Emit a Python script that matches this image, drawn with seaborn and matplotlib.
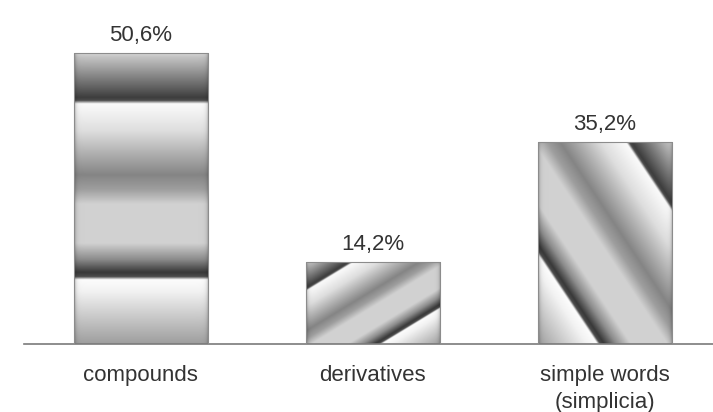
import numpy as np
import pandas as pd
import matplotlib
matplotlib.use("Agg")
import matplotlib.pyplot as plt
import seaborn as sns

categories = ["compounds", "derivatives", "simple words\n(simplicia)"]
values = [50.6, 14.2, 35.2]
value_labels = ["50,6%", "14,2%", "35,2%"]
# gradient orientation per bar: 'v' vertical, 'dr' diagonal to lower-right, 'dl' diagonal to lower-left
orient = ["v", "dr", "dl"]

sns.set_style("white")
plt.rcParams["font.family"] = ["Liberation Sans", "DejaVu Sans"]

fig = plt.figure(figsize=(7.13, 4.12), dpi=100)
ax = fig.add_axes([24 / 713, 68 / 412, 1 - 24 / 713, 1 - 68 / 412])

df = pd.DataFrame({"cat": categories, "val": values})
sns.barplot(data=df, x="cat", y="val", ax=ax, color="#bbbbbb", width=0.578,
            saturation=1)

ax.set_xlim(-0.504, 2.466)
ax.set_ylim(0, 59.8)

# metallic gradient profile
tp = [0.0, 0.017, 0.04, 0.12, 0.155, 0.165, 0.176, 0.197, 0.27, 0.42, 0.47,
      0.52, 0.655, 0.71, 0.755, 0.77, 0.78, 0.82, 1.0]
gp = [0.85, 0.76, 0.68, 0.38, 0.24, 0.30, 0.98, 0.96, 0.87, 0.52, 0.62,
      0.82, 0.82, 0.55, 0.22, 0.30, 0.99, 0.95, 0.62]

N = 400
u, v = np.meshgrid(np.linspace(0, 1, N), np.linspace(0, 1, N))
for patch, o in zip(ax.patches, orient):
    if o == "v":
        t = v
    elif o == "dr":
        t = (u + v) / 2
    else:
        t = ((1 - u) + v) / 2
    g = np.interp(t, tp, gp)
    # bevel darkening at the sides
    edge = 1 - 0.35 * (np.exp(-u / 0.012) + np.exp(-(1 - u) / 0.012))
    g = np.clip(g * edge, 0, 1)
    rgb = np.dstack([g, g, g])
    x0 = patch.get_x()
    w = patch.get_width()
    h = patch.get_height()
    im = ax.imshow(rgb, extent=(x0, x0 + w, 0, h), origin="upper",
                   aspect="auto", zorder=2, interpolation="bilinear")
    im.set_clip_path(patch)
    patch.set_facecolor("none")
    patch.set_edgecolor("#8c8c8c")
    patch.set_linewidth(0.8)
    patch.set_zorder(3)

for patch, lab in zip(ax.patches, value_labels):
    ax.annotate(lab, (patch.get_x() + patch.get_width() / 2, patch.get_height()),
                xytext=(0, 8.6), textcoords="offset points", ha="center",
                va="baseline", fontsize=16, color="#333333")

ax.set_xlim(-0.504, 2.466)
ax.set_ylim(0, 59.8)
ax.set_xlabel("")
ax.set_ylabel("")
ax.set_yticks([])
ax.tick_params(axis="x", length=0, pad=15, labelsize=16, labelcolor="#333333")
for lbl in ax.get_xticklabels():
    lbl.set_linespacing(1.4)
for s in ["top", "right", "left"]:
    ax.spines[s].set_visible(False)
ax.spines["bottom"].set_color("#7a7a7a")
ax.spines["bottom"].set_linewidth(1.2)
ax.patch.set_alpha(0)

fig.savefig("out.png", dpi=100, facecolor="white")
